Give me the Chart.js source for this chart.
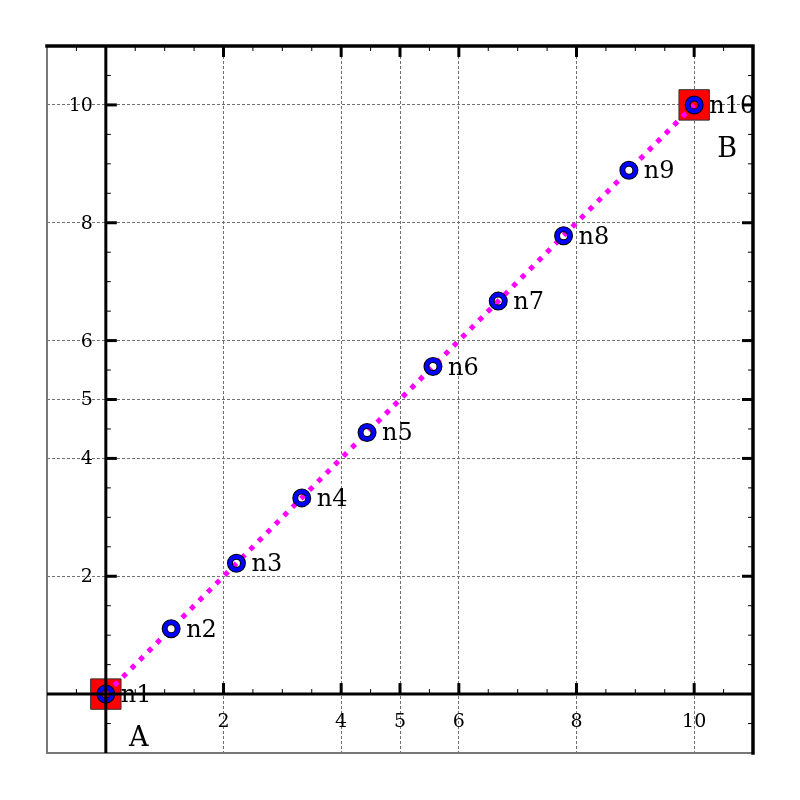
<!DOCTYPE html>
<html>
<head>
<meta charset="utf-8">
<script src="https://cdn.jsdelivr.net/npm/chart.js@4.4.1/dist/chart.umd.min.js"></script>
<style>
html,body{margin:0;padding:0;background:#fff}
</style>
</head>
<body>
<canvas id="grafico" width="800" height="800"></canvas>
<script>
// pontos ao longo da reta A -> B
const nomes=["n1","n2","n3","n4","n5","n6","n7","n8","n9","n10"];
const xs=[0,1.11,2.22,3.33,4.44,5.56,6.67,7.78,8.89,10];
const ys=[0,1.11,2.22,3.33,4.44,5.56,6.67,7.78,8.89,10];
// extremos
const extremos=["A","B"];
const extX=[0,10];
const extY=[0,10];
// eixos
const ticksX=[2,4,5,6,8,10];
const ticksY=[2,4,5,6,8,10];
const limX=[-1,11];
const limY=[-1,11];
const passoMenor=0.5;

const pontos=xs.map((x,i)=>({x:x,y:ys[i]}));
const cantos=extX.map((x,i)=>({x:x,y:extY[i]}));
const serif="'DejaVu Serif', 'Liberation Serif', serif";

function traco(c,x,y,dx,dy,len,w){
c.lineWidth=w;
c.beginPath();c.moveTo(x,y);c.lineTo(x+dx*len,y+dy*len);c.stroke();
}

const eixos={id:"eixos",afterDatasetsDraw(chart){
const c=chart.ctx,a=chart.chartArea,sx=chart.scales.x,sy=chart.scales.y;
const x0=sx.getPixelForValue(0),y0=sy.getPixelForValue(0);
c.save();
// rotulos do eixo y (a esquerda da origem)
c.fillStyle="#000";
c.font="19px "+serif;
c.textAlign="right";c.textBaseline="middle";
sy.ticks.forEach(t=>c.fillText(String(t.value),x0-13,sy.getPixelForValue(t.value)+1));
// rotulos dos pontos
c.font="24px "+serif;
c.textAlign="left";c.textBaseline="alphabetic";
nomes.forEach((n,i)=>c.fillText(n,sx.getPixelForValue(xs[i])+15,sy.getPixelForValue(ys[i])+8));
c.font="27px "+serif;
c.textAlign="center";
extremos.forEach((n,i)=>c.fillText(n,sx.getPixelForValue(extX[i])+33,sy.getPixelForValue(extY[i])+52));
// moldura
c.strokeStyle="#777";c.lineWidth=2;
c.beginPath();c.moveTo(a.left,a.top);c.lineTo(a.left,a.bottom);c.lineTo(a.right,a.bottom);c.stroke();
c.strokeStyle="#000";c.lineWidth=3.5;c.lineCap="square";
c.beginPath();c.moveTo(a.left,a.top);c.lineTo(a.right,a.top);c.lineTo(a.right,a.bottom);c.stroke();
c.lineCap="butt";
// eixos pela origem
c.lineWidth=3;
c.beginPath();c.moveTo(x0,a.top);c.lineTo(x0,a.bottom);c.stroke();
c.beginPath();c.moveTo(a.left,y0);c.lineTo(a.right,y0);c.stroke();
// tracos menores
for(let v=limX[0]+passoMenor;v<limX[1];v+=passoMenor){
if(v===0||ticksX.includes(v))continue;
const px=sx.getPixelForValue(v);
traco(c,px,y0,0,-1,5,1);
traco(c,px,a.top,0,1,5,1);
}
for(let v=limY[0]+passoMenor;v<limY[1];v+=passoMenor){
if(v===0||ticksY.includes(v))continue;
const py=sy.getPixelForValue(v);
traco(c,x0,py,1,0,5,1);
traco(c,a.right,py,-1,0,5,1);
}
// tracos maiores
ticksX.forEach(v=>{
const px=sx.getPixelForValue(v);
traco(c,px,y0,0,-1,11,3);
traco(c,px,a.top,0,1,11,3);
});
ticksY.forEach(v=>{
const py=sy.getPixelForValue(v);
traco(c,x0,py,1,0,11,3);
traco(c,a.right,py,-1,0,11,3);
});
c.restore();
}};

function escala(lim,vals,pos,mostrar){
return {
type:"linear",min:lim[0],max:lim[1],position:pos,
afterBuildTicks:s=>{s.ticks=vals.map(v=>({value:v}));},
grid:{color:"#707070",lineWidth:1,drawTicks:false},
border:{display:false,dash:[3,2]},
ticks:{display:mostrar,color:"#000",font:{family:serif,size:19},padding:17,callback:v=>String(v)}
};
}

const ctx=document.getElementById("grafico");
new Chart(ctx,{
type:"scatter",
data:{datasets:[
{data:pontos,pointRadius:6.5,pointHoverRadius:6.5,borderWidth:4,borderColor:"#0000ff",backgroundColor:"rgba(0,0,0,0)",order:0},
{data:pontos,pointRadius:6.5,pointHoverRadius:6.5,borderWidth:6,borderColor:"#000",backgroundColor:"rgba(0,0,0,0)",order:1},
{data:pontos,showLine:true,pointRadius:0,borderColor:"#ff00ff",borderWidth:5,borderDash:[5,7],order:2},
{data:cantos,pointStyle:"rect",pointRadius:21.5,pointHoverRadius:21.5,backgroundColor:"#ff0000",borderColor:"#333",borderWidth:1,order:3}
]},
options:{
responsive:false,animation:false,events:[],
layout:{padding:{left:47,top:46,right:47,bottom:47}},
plugins:{legend:{display:false},tooltip:{enabled:false}},
scales:{
x:escala(limX,ticksX,{y:0},true),
y:escala(limY,ticksY,{x:0},false)
}
},
plugins:[eixos]
});
</script>
</body>
</html>
